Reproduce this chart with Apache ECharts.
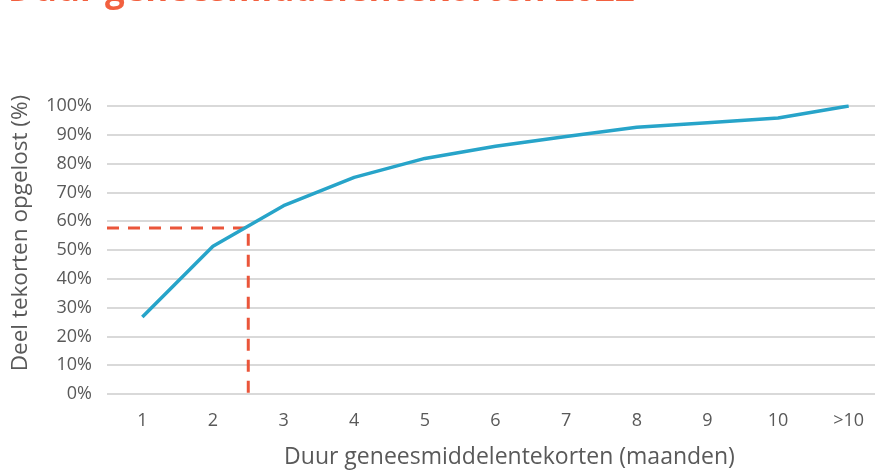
<!DOCTYPE html>
<html>
<head>
<meta charset="utf-8">
<script src="https://cdn.jsdelivr.net/npm/echarts@6/dist/echarts.min.js"></script>
<style>html,body{margin:0;padding:0;background:#fff;}#c{width:875px;height:471px;}</style>
</head>
<body>
<div id="c"></div>
<script>
const categories = ['1','2','3','4','5','6','7','8','9','10','>10'];
const solvedShare = [26.7, 51.3, 65.4, 75.2, 81.8, 86.0, 89.4, 92.6, 94.2, 95.8, 100];
const yTicks = [0,10,20,30,40,50,60,70,80,90,100];
// reference guide: x position (0-based category index) and value
const guideX = [-0.5, 1.5, 1.5];
const guideY = [57.6, 57.6, 0];

const titleText = 'Duur geneesmiddelentekorten 2022';
const FONT = '"Open Sans", sans-serif';

const chart = echarts.init(document.getElementById('c'));
chart.setOption({
  animation: false,
  graphic: [{
    type: 'text', left: 8, top: -26,
    style: { text: titleText, fill: '#f2603f', font: 'bold 35px ' + FONT }
  }],
  grid: { left: 107, top: 106, width: 777, height: 288, containLabel: false, outerBoundsMode: 'none' },
  xAxis: [{
    type: 'category', data: categories, boundaryGap: true,
    axisLine: { show: false }, axisTick: { show: false },
    axisLabel: { color: '#595959', fontSize: 18, fontFamily: FONT, margin: 18 },
    name: 'Duur geneesmiddelentekorten (maanden)', nameLocation: 'middle', nameGap: 52,
    nameTextStyle: { color: '#595959', fontSize: 23, fontFamily: FONT, padding: [0, 0, 0, 28] }
  }, {
    type: 'value', min: -0.5, max: 10.5, show: false
  }],
  yAxis: {
    type: 'value', min: 0, max: 100, interval: 10,
    axisLine: { show: false }, axisTick: { show: false },
    axisLabel: { color: '#595959', fontSize: 18, fontFamily: FONT, margin: 15, formatter: v => v + '%' },
    splitLine: { lineStyle: { color: '#d9d9d9', width: 2 } },
    name: 'Deel tekorten opgelost (%)', nameLocation: 'middle', nameGap: 75,
    nameTextStyle: { color: '#595959', fontSize: 22.5, fontFamily: FONT, padding: [0, 0, 0, 34] }
  },
  series: [{
    type: 'line', data: solvedShare, xAxisIndex: 0,
    symbol: 'none', lineStyle: { color: '#27a4c9', width: 3.5 }, z: 3
  }, {
    type: 'line', xAxisIndex: 1,
    data: guideX.map((x, i) => [x, guideY[i]]),
    symbol: 'none', lineStyle: { color: '#ea553a', width: 3, type: [12, 9] }, z: 2
  }]
});
</script>
</body>
</html>
